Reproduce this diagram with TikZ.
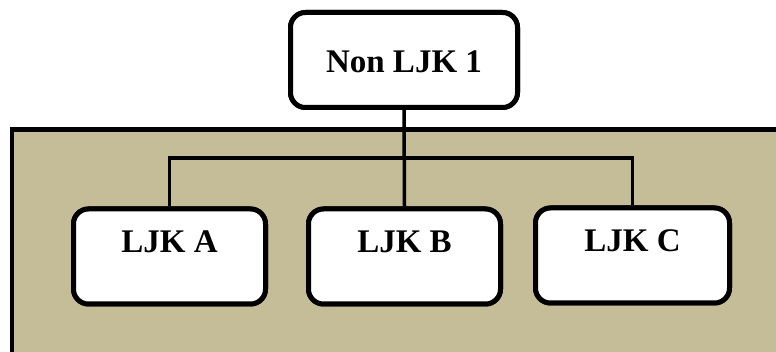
\documentclass[tikz,border=0pt]{standalone}
\usepackage{fontspec}
\setmainfont{Liberation Serif}
\definecolor{panel}{HTML}{C4BD97}
\begin{document}
\begin{tikzpicture}[x=1pt,y=-1pt,
  orgbox/.style={draw=black, fill=white, line width=5pt, rounded corners=15pt,
    inner xsep=0pt, inner ysep=0pt,
    font=\fontsize{33}{40}\selectfont\bfseries},
  topbox/.style={orgbox, minimum width=227pt, text height=60.5pt, text depth=34.5pt},
  childbox/.style={orgbox, minimum width=192pt, text height=43.5pt, text depth=51.5pt},
  link/.style={draw=black, line width=3.5pt}]
  \useasboundingbox (0,0) rectangle (776,352);
  \clip (0,0) rectangle (776,352);
  % tan panel holding the lower level
  \draw[fill=panel, line width=4.5pt] (12,129.5) rectangle (800,380);
  % boxes
  \node[topbox] (top) at (404,60) {Non LJK 1};
  \node[childbox, anchor=north] (A) at (169.5,206.5) {LJK A};
  \node[childbox, anchor=north] (B) at (404.5,206.5) {LJK B};
  \node[childbox, minimum width=194pt, anchor=north] (C) at (632.5,205.5) {LJK C};
  % connectors
  \coordinate (jn) at (404.5,158);
  \draw[link] (top.south) -- (B.north);
  \draw[link] (A.north) |- (jn) -| (C.north);
  % boxes again on top of the lines
  \node[topbox] at (top) {Non LJK 1};
  \node[childbox] at (A) {LJK A};
  \node[childbox] at (B) {LJK B};
  \node[childbox, minimum width=194pt] at (C) {LJK C};
\end{tikzpicture}
\end{document}
